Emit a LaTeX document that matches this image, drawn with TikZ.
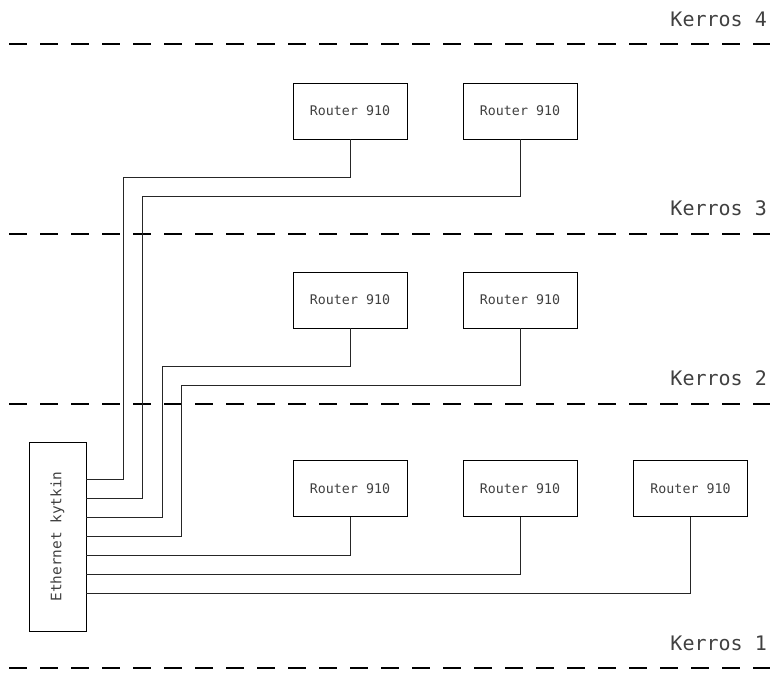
\documentclass[tikz,border=0pt]{standalone}
\usepackage{fontspec}
\newfontfamily\cadfont{DejaVu Sans Mono}

\begin{document}
\begin{tikzpicture}[x=1pt,y=-1pt,
    router/.style={draw,line width=0.8pt,minimum width=114pt,minimum height=56pt,inner sep=0pt,
        font=\cadfont\fontsize{13.3}{16}\selectfont,text=black!75},
    kytkinbox/.style={draw,line width=0.8pt,minimum width=57pt,minimum height=189pt,inner sep=0pt},
    wire/.style={line width=0.8pt,black!85},
    floorline/.style={line width=2.6pt,dash pattern=on 18pt off 13pt},
    floorlabel/.style={anchor=base east,inner sep=0pt,font=\cadfont\fontsize{20}{24}\selectfont,text=black!75}]
    \useasboundingbox(0,0)rectangle(770,674);
    % kerrokset
    \draw[floorline](9,44)--(770,44);
    \draw[floorline,line width=1.6pt](9,234)--(770,234);
    \draw[floorline](9,404)--(770,404);
    \draw[floorline](9,668)--(770,668);
    \node[floorlabel](k4)at(767,27){Kerros 4};
    \node[floorlabel](k3)at(767,215){Kerros 3};
    \node[floorlabel](k2)at(767,385){Kerros 2};
    \node[floorlabel](k1)at(767,650){Kerros 1};
    % reitittimet
    \node[router](r41)at(350,111){Router 910};
    \node[router](r42)at(520,111){Router 910};
    \node[router](r31)at(350,300){Router 910};
    \node[router](r32)at(520,300){Router 910};
    \node[router](r11)at(350,488.5){Router 910};
    \node[router](r12)at(520,488.5){Router 910};
    \node[router](r13)at(690.5,488.5){Router 910};
    % kytkin
    \node[kytkinbox](kytkin)at(57.5,536.5){};
    \node[rotate=90,font=\cadfont\fontsize{14.4}{17}\selectfont,text=black!75](kytkinteksti)at(kytkin.center){Ethernet kytkin};
    \coordinate(p1)at(kytkin.east|-0,479);
    \coordinate(p2)at(kytkin.east|-0,498);
    \coordinate(p3)at(kytkin.east|-0,517);
    \coordinate(p4)at(kytkin.east|-0,536);
    \coordinate(p5)at(kytkin.east|-0,555);
    \coordinate(p6)at(kytkin.east|-0,574);
    \coordinate(p7)at(kytkin.east|-0,593);
    \coordinate(c1)at(123,177);
    \coordinate(c2)at(142,196);
    \coordinate(c3)at(162,366);
    \coordinate(c4)at(181,385);
    % kaapelit
    \draw[wire](r41.south)|-(c1)|-(p1);
    \draw[wire](r42.south)|-(c2)|-(p2);
    \draw[wire](r31.south)|-(c3)|-(p3);
    \draw[wire](r32.south)|-(c4)|-(p4);
    \draw[wire](r11.south)|-(p5);
    \draw[wire](r12.south)|-(p6);
    \draw[wire](r13.south)|-(p7);
\end{tikzpicture}
\end{document}
